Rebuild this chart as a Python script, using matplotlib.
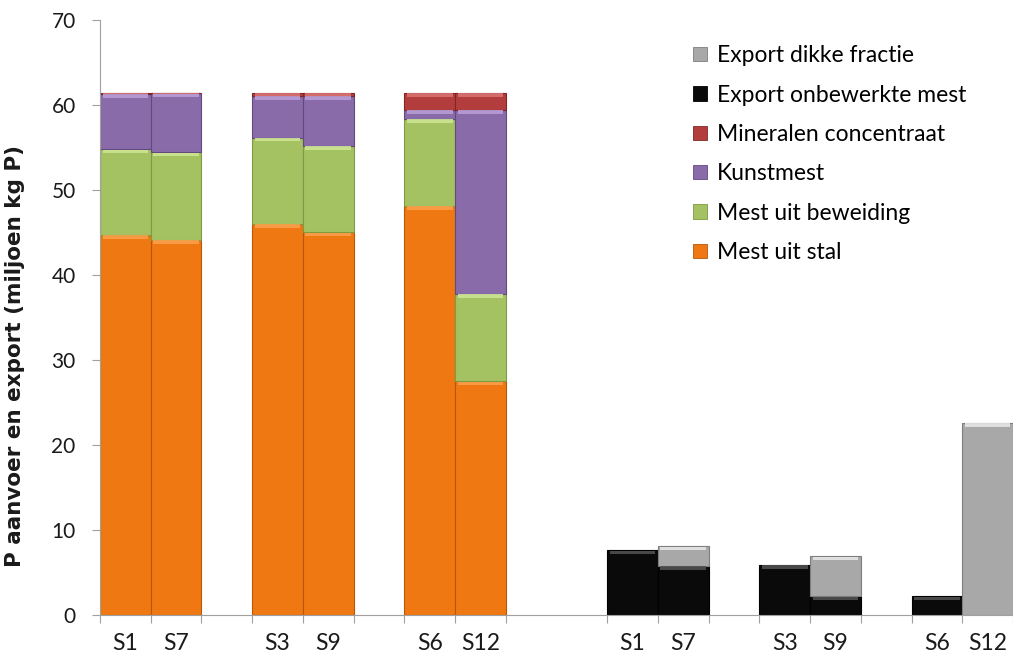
import matplotlib
matplotlib.use("Agg")
import matplotlib.pyplot as plt
from matplotlib.patches import Patch
import numpy as np

plt.rcParams['font.family'] = ['Lato', 'DejaVu Sans']

# Scenario labels: input side (left) and export side (right)
labels_in = ["S1", "S7", "S3", "S9", "S6", "S12"]
labels_out = ["S1", "S7", "S3", "S9", "S6", "S12"]

# P input (million kg P)
mest_stal = [44.7, 44.1, 46.0, 45.0, 48.1, 27.5]
mest_beweiding = [10.1, 10.3, 10.15, 10.2, 10.25, 10.25]
kunstmest = [6.5, 6.95, 4.9, 5.85, 1.05, 21.65]
mineralen = [0.1, 0.1, 0.35, 0.35, 2.0, 2.0]

# P export (million kg P)
export_onbewerkt = [7.6, 5.8, 5.9, 2.2, 2.2, 0.0]
export_dik = [0.0, 2.3, 0.0, 4.7, 0.0, 22.6]

# slot positions on the category axis (empty slots give the gaps)
pos_in = np.array([0, 1, 3, 4, 6, 7])
pos_out = np.array([10, 11, 13, 14, 16, 17])

col_stal = "#F07812"
col_bew = "#A5C263"
col_kunst = "#896BAA"
col_min = "#B23D3C"
col_onb = "#0A0A0A"
col_dik = "#A8A8A8"

edge = {col_stal: "#B8560A", col_bew: "#7E9A42", col_kunst: "#64497F",
        col_min: "#7F2727", col_onb: "#000000", col_dik: "#7E7E7E"}
light = {col_stal: "#F9A04A", col_bew: "#CDE592", col_kunst: "#B89DD6",
         col_min: "#DA7272", col_onb: "#505050", col_dik: "#E6E6E6"}

fig = plt.figure(figsize=(10.13, 6.62), dpi=100)
ax = fig.add_axes([0.0987, 0.071, 0.9013, 0.899])

W = 1.0


def stack(ax, x, vals, bottom, color):
    vals = np.asarray(vals, float)
    bottom = np.asarray(bottom, float)
    ax.bar(x, vals, W, bottom=bottom, color=color, edgecolor=edge[color],
           linewidth=0.8, zorder=2)
    # bevel highlight along the top of every segment
    hl = np.minimum(vals, 0.4)
    ax.bar(x, hl, W * 0.9, bottom=bottom + vals - hl - 0.05, color=light[color],
           linewidth=0, zorder=3, alpha=0.9)
    return bottom + vals


b = np.zeros(6)
for vals, c in [(mest_stal, col_stal), (mest_beweiding, col_bew),
                (kunstmest, col_kunst), (mineralen, col_min)]:
    b = stack(ax, pos_in, vals, b, c)

b = np.zeros(6)
for vals, c in [(export_onbewerkt, col_onb), (export_dik, col_dik)]:
    mask = np.asarray(vals) > 0
    v = np.asarray(vals, float)
    stack(ax, pos_out[mask], v[mask], b[mask], c)
    b = b + v

ax.set_xlim(-0.5, 17.5)
ax.set_ylim(0, 70)
ax.set_yticks(np.arange(0, 71, 10))
ax.tick_params(axis='y', labelsize=15, length=5.5, color="#A0A0A0", width=0.8,
               pad=12, labelcolor="#1A1A1A")

ax.set_xticks(np.concatenate([pos_in, pos_out]))
ax.set_xticklabels(labels_in + labels_out)
ax.tick_params(axis='x', length=0, labelsize=16.5, pad=13, labelcolor="#1A1A1A")
# category boundary ticks
bounds = np.concatenate([np.arange(-0.5, 8, 1.0), np.arange(9.5, 18, 1.0)])
ax.set_xticks(bounds, minor=True)
ax.tick_params(axis='x', which='minor', length=6, color="#A0A0A0", width=0.8)

for s in ["top", "right"]:
    ax.spines[s].set_visible(False)
ax.spines["left"].set_color("#A0A0A0")
ax.spines["bottom"].set_color("#A0A0A0")
ax.spines["left"].set_linewidth(0.8)
ax.spines["bottom"].set_linewidth(0.8)

ylab = ax.set_ylabel("P aanvoer en export (miljoen kg P)", fontsize=14,
                     fontweight="bold", color="#1A1A1A",
                     family=["DejaVu Sans"])
ax.yaxis.set_label_coords(-0.082, 0.435)

handles = [Patch(facecolor=c, edgecolor=edge[c], linewidth=0.6) for c in
           [col_dik, col_onb, col_min, col_kunst, col_bew, col_stal]]
names = ["Export dikke fractie", "Export onbewerkte mest",
         "Mineralen concentraat", "Kunstmest", "Mest uit beweiding",
         "Mest uit stal"]
ax.legend(handles, names, loc="upper left", bbox_to_anchor=(0.627, 0.992),
          frameon=False, fontsize=16.5, handlelength=0.6, handleheight=0.6,
          handletextpad=0.45, labelspacing=0.8)

# stretch the axis title along the full value range
fig.canvas.draw()
r = fig.canvas.get_renderer()
h = ylab.get_window_extent(r).height
ylab.set_fontsize(14 * 425.0 / h)

fig.savefig("out.png", dpi=100)
